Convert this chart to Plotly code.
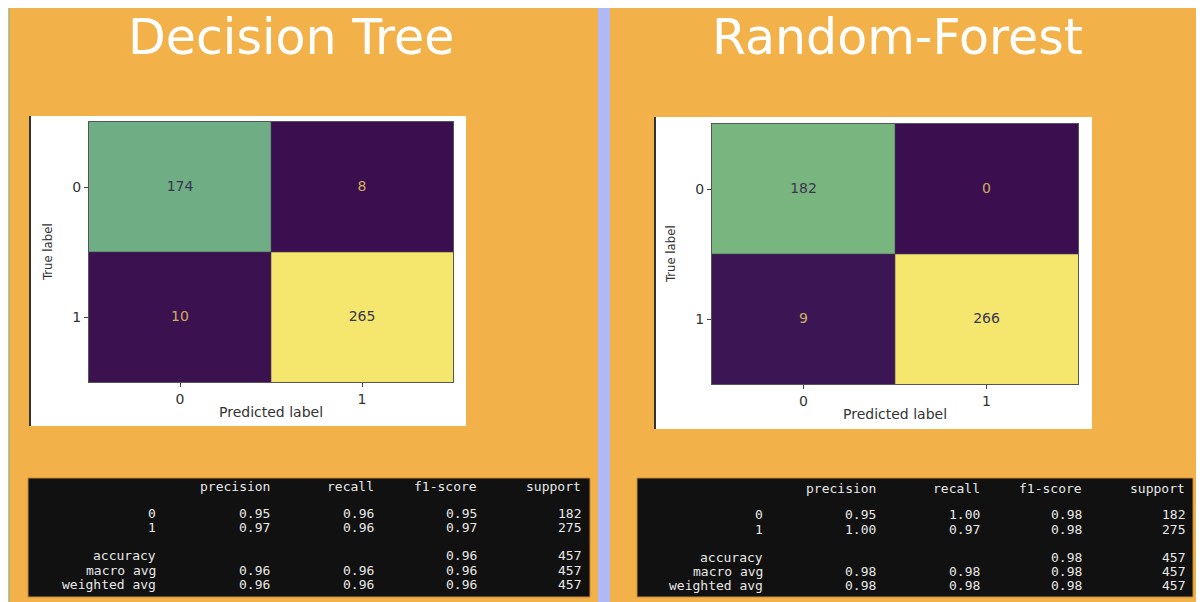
import plotly.graph_objects as go

# The page adds an 8px white margin around the figure, which matches
# the white strip along the top/left of the reference.
OFF = 8
W, H = 1204 - OFF, 602 - OFF

# ---------------- data ----------------
titles = ["Decision Tree", "Random-Forest"]
class_labels = ["0", "1"]
cm_tree = [[174, 8], [10, 265]]
cm_forest = [[182, 0], [9, 266]]

report_columns = ["precision", "recall", "f1-score", "support"]
report_rows = ["0", "1", "accuracy", "macro avg", "weighted avg"]
tree_report = [
    ["0.95", "0.96", "0.95", "182"],
    ["0.97", "0.96", "0.97", "275"],
    ["", "", "0.96", "457"],
    ["0.96", "0.96", "0.96", "457"],
    ["0.96", "0.96", "0.96", "457"],
]
forest_report = [
    ["0.95", "1.00", "0.98", "182"],
    ["1.00", "0.97", "0.98", "275"],
    ["", "", "0.98", "457"],
    ["0.98", "0.98", "0.98", "457"],
    ["0.98", "0.98", "0.98", "457"],
]

# ---------------- styling ----------------
ORANGE = "#F3B14A"
BLUE = "#AFB9F6"
DARK_TXT = "#3a3550"
LIGHT_TXT = "#cfae5c"
colorscale = [[0.0, "#3B0F4F"], [0.3, "#3f4a86"], [0.5, "#3f8a8a"],
              [0.646, "#6FAE85"], [0.684, "#79B67F"], [0.85, "#b9d26c"],
              [1.0, "#F5E66D"]]


def px(x):
    return (x - OFF) / W


def py(y):
    return 1 - (y - OFF) / H


fig = go.Figure()

panels = [
    dict(cm=cm_tree, report=tree_report, title=titles[0], title_x=291,
         box=(29, 116, 466, 426), plot=(89, 122, 453, 382),
         table=(28, 478, 590, 597),
         col_right=[158, 272, 376, 479, 583],
         row_y=[486, 513, 527, 555, 570, 584], axis=""),
    dict(cm=cm_forest, report=forest_report, title=titles[1], title_x=897,
         box=(654, 117, 1092, 429), plot=(712, 124, 1078, 384),
         table=(637, 478, 1193, 597),
         col_right=[765, 878, 982, 1084, 1187],
         row_y=[488, 515, 529, 557, 571, 585], axis="2"),
]

shapes = []
annotations = []

# thin teal edge line and the blue divider
shapes.append(dict(type="line", xref="paper", yref="paper", x0=px(9.5), x1=px(9.5),
                   y0=0, y1=1, line=dict(color="#7fc9c0", width=1)))
shapes.append(dict(type="rect", xref="paper", yref="paper", x0=px(598), x1=px(610),
                   y0=0, y1=1, fillcolor=BLUE, line_width=0, layer="below"))

layout_axes = {}
for p in panels:
    bx0, by0, bx1, by1 = p["box"]
    shapes.append(dict(type="rect", xref="paper", yref="paper",
                       x0=px(bx0), x1=px(bx1), y0=py(by1), y1=py(by0),
                       fillcolor="white", line_width=0, layer="below"))
    shapes.append(dict(type="line", xref="paper", yref="paper",
                       x0=px(bx0 + 1), x1=px(bx0 + 1), y0=py(by1), y1=py(by0),
                       line=dict(color="#333", width=2), layer="below"))
    tx0, ty0, tx1, ty1 = p["table"]
    shapes.append(dict(type="rect", xref="paper", yref="paper",
                       x0=px(tx0), x1=px(tx1), y0=py(ty1), y1=py(ty0),
                       fillcolor="#111111", line=dict(color="#c48a35", width=1),
                       layer="below"))

    ax = p["axis"]
    px0, py0, px1, py1 = p["plot"]
    cm = p["cm"]
    flat = [v for r in cm for v in r]
    zmin, zmax = min(flat), max(flat)
    fig.add_trace(go.Heatmap(
        z=cm, x=class_labels, y=class_labels, colorscale=colorscale,
        zmin=zmin, zmax=zmax, showscale=False,
        xaxis="x" + ax, yaxis="y" + ax, hoverinfo="z"))
    # faint cell separators
    shapes.append(dict(type="line", xref="x" + ax, yref="y" + ax + " domain",
                       x0=0.5, x1=0.5, y0=0, y1=1,
                       line=dict(color="rgba(70,70,80,0.6)", width=1)))
    shapes.append(dict(type="line", xref="x" + ax + " domain", yref="y" + ax,
                       x0=0, x1=1, y0=0.5, y1=0.5,
                       line=dict(color="rgba(70,70,80,0.6)", width=1)))
    xs, ys, ts, cs = [], [], [], []
    mid = (zmin + zmax) / 2
    for i, r in enumerate(cm):
        for j, v in enumerate(r):
            xs.append(class_labels[j])
            ys.append(class_labels[i])
            ts.append(str(v))
            cs.append(DARK_TXT if v > mid else LIGHT_TXT)
    fig.add_trace(go.Scatter(
        x=xs, y=ys, text=ts, mode="text",
        textfont=dict(family="DejaVu Sans", size=14, color=cs),
        xaxis="x" + ax, yaxis="y" + ax, hoverinfo="skip", showlegend=False))

    tick_font = dict(family="DejaVu Sans", size=14, color="#333")
    layout_axes["xaxis" + ax] = dict(
        domain=[px(px0), px(px1)], anchor="y" + ax, type="category",
        showgrid=False, zeroline=False, ticks="outside", ticklen=4,
        tickcolor="#444", tickfont=tick_font,
        showline=True, linecolor="#555", linewidth=1, mirror=True, fixedrange=True)
    layout_axes["yaxis" + ax] = dict(
        domain=[py(py1), py(py0)], anchor="x" + ax, type="category",
        autorange="reversed",
        showgrid=False, zeroline=False, ticks="outside", ticklen=4,
        tickcolor="#444", tickfont=tick_font,
        showline=True, linecolor="#555", linewidth=1, mirror=True, fixedrange=True)

    # axis titles
    annotations.append(dict(text="Predicted label", xref="paper", yref="paper",
                            x=px((px0 + px1) / 2), y=py(py1 + 30),
                            showarrow=False, xanchor="center", yanchor="middle",
                            font=dict(family="DejaVu Sans", size=14, color="#333")))
    annotations.append(dict(text="True label", xref="paper", yref="paper",
                            x=px(px0 - 42), y=py((py0 + py1) / 2),
                            showarrow=False, textangle=-90, xanchor="center",
                            yanchor="middle",
                            font=dict(family="Liberation Sans Narrow, DejaVu Sans Condensed, DejaVu Sans",
                                      size=13, color="#333")))

    # panel title
    annotations.append(dict(text=p["title"], xref="paper", yref="paper",
                            x=px(p["title_x"]), y=1, showarrow=False,
                            xanchor="center", yanchor="top", borderpad=0,
                            font=dict(family="DejaVu Sans", size=49, color="white")))

    # classification report
    mono = dict(family="DejaVu Sans Mono", size=13, color="#e8e8e8")
    cr = p["col_right"]
    ry = p["row_y"]
    for k, col in enumerate(report_columns):
        annotations.append(dict(text=col, xref="paper", yref="paper",
                                x=px(cr[k + 1]), y=py(ry[0]), showarrow=False,
                                xanchor="right", yanchor="middle", font=mono))
    for i, rname in enumerate(report_rows):
        annotations.append(dict(text=rname, xref="paper", yref="paper",
                                x=px(cr[0]), y=py(ry[i + 1]), showarrow=False,
                                xanchor="right", yanchor="middle", font=mono))
        for k, val in enumerate(p["report"][i]):
            if val:
                annotations.append(dict(text=val, xref="paper", yref="paper",
                                        x=px(cr[k + 1]), y=py(ry[i + 1]),
                                        showarrow=False, xanchor="right",
                                        yanchor="middle", font=mono))

fig.update_layout(
    width=W, height=H, margin=dict(l=0, r=0, t=0, b=0),
    paper_bgcolor=ORANGE, plot_bgcolor=ORANGE,
    showlegend=False, shapes=shapes, annotations=annotations,
    **layout_axes)

fig.write_html("out.html")
